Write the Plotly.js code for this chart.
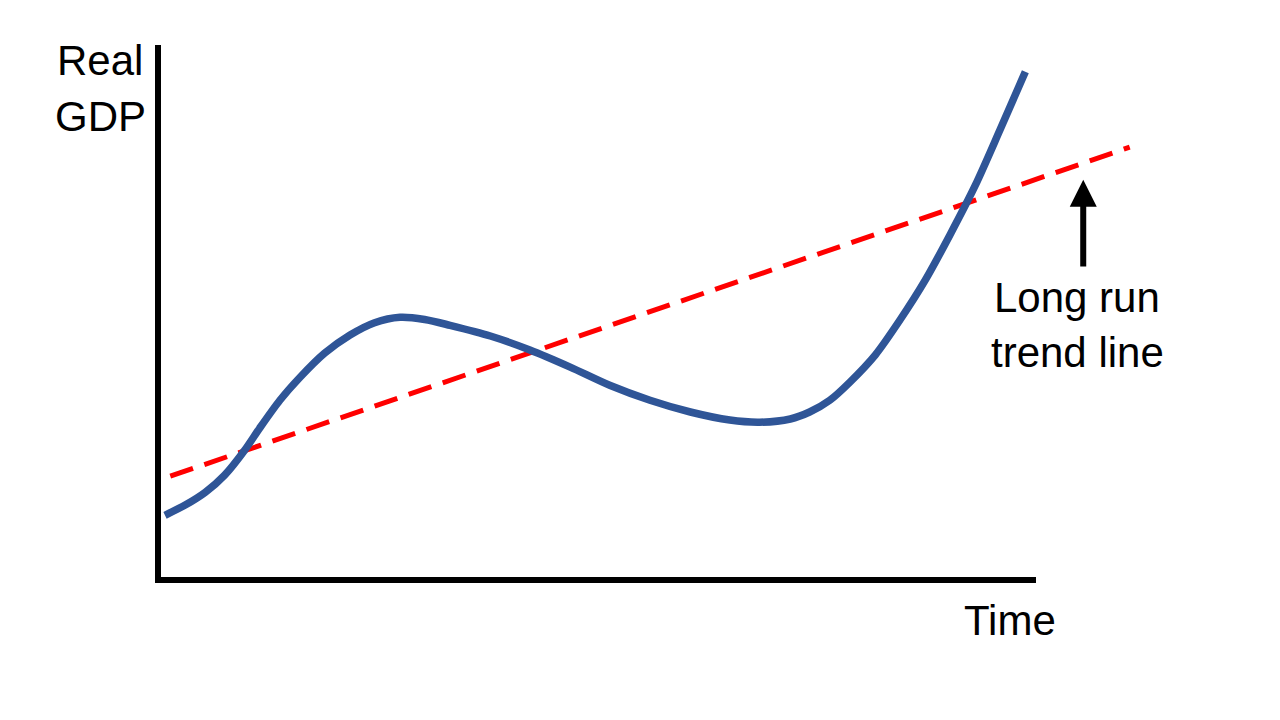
<!DOCTYPE html>
<html>
<head>
<meta charset="utf-8">
<script src="https://cdn.plot.ly/plotly-3.0.1.min.js"></script>
<style>html,body{margin:0;padding:0;background:#fff;}#chart{width:1280px;height:720px;}</style>
</head>
<body>
<div id="chart"></div>
<script>
// Actual real GDP path (time units, GDP units)
const gdpTime = [0.8, 3.1, 5.4, 7.6, 9.9, 11.6, 13.9, 16.2, 19.0, 21.9, 24.7, 27.6, 30.4, 33.3, 37.9, 42.4, 47.0, 51.5, 56.1, 60.7, 65.2, 68.6, 72.1, 74.3, 76.6, 78.9, 81.8, 84.6, 87.5, 90.3, 93.2, 96.0, 98.9];
const gdpValue = [12.1, 14.0, 16.4, 19.6, 24.3, 28.4, 33.6, 37.9, 42.4, 45.8, 48.1, 49.1, 48.7, 47.6, 45.6, 43.0, 39.8, 36.4, 33.6, 31.4, 29.9, 29.5, 30.1, 31.4, 33.6, 37.0, 42.1, 48.6, 56.1, 64.5, 73.8, 84.1, 95.0];
// Long-run trend line
const trendTime = [1.4, 110.8];
const trendValue = [19.4, 80.9];
// Arrow pointing at the trend line
const arrowTime = 105.5;
const arrowFrom = 58.3;
const arrowTo = 74.8;
// Labels
const yLabelLines = ["Real", "GDP"];
const xLabel = "Time";
const trendLabelLines = ["Long run", "trend line"];

const L = 158, R = 1150, T = 45, B = 580;
const px = x => (x - L) / (R - L);
const py = y => (B - y) / (B - T);
const font = {family: "Liberation Sans, Arial, sans-serif", size: 42, color: "#000"};

const traces = [
  {x: trendTime, y: trendValue, mode: "lines", line: {color: "#FF0000", width: 5, dash: "24px,12px"}, hoverinfo: "skip"},
  {x: gdpTime, y: gdpValue, mode: "lines", line: {color: "#2F5597", width: 7.5, shape: "spline", smoothing: 0.8}, hoverinfo: "skip"}
];

const layout = {
  width: 1280, height: 720,
  margin: {l: L, r: 1280 - R, t: T, b: 720 - B},
  paper_bgcolor: "#fff", plot_bgcolor: "#fff",
  showlegend: false,
  xaxis: {range: [0, (R - L) / 8.77], visible: false, fixedrange: true},
  yaxis: {range: [0, 100], visible: false, fixedrange: true},
  shapes: [
    {type: "line", xref: "paper", yref: "paper", x0: px(158), x1: px(158), y0: py(583), y1: py(45), line: {color: "#000", width: 6}, layer: "above"},
    {type: "line", xref: "paper", yref: "paper", x0: px(155), x1: px(1036), y0: py(580), y1: py(580), line: {color: "#000", width: 6}, layer: "above"}
  ],
  annotations: [
    {xref: "paper", yref: "paper", x: px(100), y: py(60), text: yLabelLines[0], showarrow: false, font: font, xanchor: "center", yanchor: "middle"},
    {xref: "paper", yref: "paper", x: px(100), y: py(117), text: yLabelLines[1], showarrow: false, font: font, xanchor: "center", yanchor: "middle"},
    {xref: "paper", yref: "paper", x: px(1010), y: py(620), text: xLabel, showarrow: false, font: font, xanchor: "center", yanchor: "middle"},
    {xref: "paper", yref: "paper", x: px(1077), y: py(297), text: trendLabelLines[0], showarrow: false, font: font, xanchor: "center", yanchor: "middle"},
    {xref: "paper", yref: "paper", x: px(1077), y: py(352), text: trendLabelLines[1], showarrow: false, font: font, xanchor: "center", yanchor: "middle"},
    {xref: "x", yref: "y", axref: "x", ayref: "y", x: arrowTime, y: arrowTo, ax: arrowTime, ay: arrowFrom, text: "", showarrow: true, arrowhead: 2, arrowsize: 0.9, arrowwidth: 6, arrowcolor: "#000", standoff: 0}
  ]
};

Plotly.newPlot("chart", traces, layout, {staticPlot: true, displayModeBar: false});
</script>
</body>
</html>
